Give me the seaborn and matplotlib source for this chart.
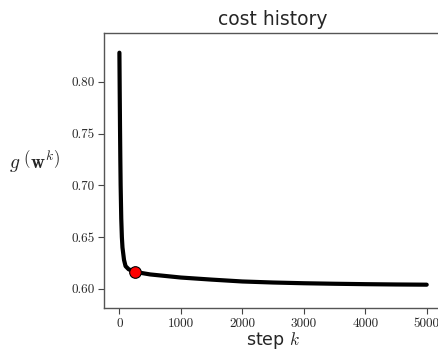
import matplotlib
matplotlib.use("Agg")
import matplotlib.pyplot as plt
import seaborn as sns
import pandas as pd

# cost history values
steps = [0, 5, 10, 15, 20, 30, 40, 50, 75, 100, 150, 250, 500, 1000, 1500,
         2000, 2500, 3000, 3500, 4000, 4500, 5000]
costs = [0.828, 0.79, 0.755, 0.725, 0.70, 0.668, 0.650, 0.640, 0.628, 0.622,
         0.6190, 0.6165, 0.6140, 0.6110, 0.6090, 0.6072, 0.6062, 0.6055,
         0.6050, 0.6046, 0.6043, 0.6041]
marker_step = [250]
marker_cost = [0.6165]
x_ticks = [0, 1000, 2000, 3000, 4000, 5000]
y_ticks = [0.60, 0.65, 0.70, 0.75, 0.80]

sns.set_style("ticks")
plt.rcParams["mathtext.fontset"] = "cm"

df = pd.DataFrame({"step": steps, "cost": costs})

fig = plt.figure(figsize=(4.39, 3.51), dpi=100)
ax = fig.add_axes([0.237, 0.1225, 0.77, 0.7835])

sns.lineplot(data=df, x="step", y="cost", ax=ax, color="black", linewidth=3.0)
ax.scatter(marker_step, marker_cost, s=70, color="red", edgecolor="black",
           linewidth=0.8, zorder=3)

ax.set_xlim(-250, 5250)
ax.set_ylim(0.5816, 0.847)
ax.set_xticks(x_ticks)
ax.set_yticks(y_ticks)
ax.set_xticklabels([str(t) for t in x_ticks], fontfamily="cmr10", fontsize=9.5)
ax.set_yticklabels(["%.2f" % t for t in y_ticks], fontfamily="cmr10", fontsize=9.5)
ax.tick_params(color="#444444", length=4, width=0.8, pad=3)

for s in ax.spines.values():
    s.set_color("#555555")
    s.set_linewidth(1.0)

ax.set_title("cost history", fontsize=13.5)
ax.set_xlabel(r"step $k$", fontsize=12.5, labelpad=0)
ax.set_ylabel(r"$g\ \left(\mathbf{w}^{k}\right)$", fontsize=14, rotation=0,
              va="center")
ax.yaxis.set_label_coords(-0.205, 0.535)

fig.savefig("out.png", dpi=100)
